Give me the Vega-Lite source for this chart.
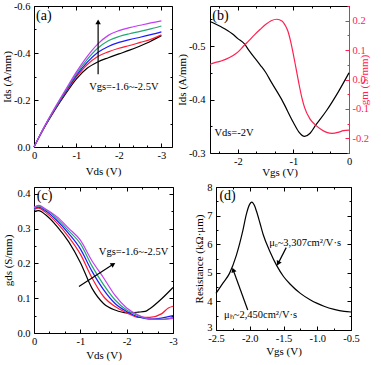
{
  "$schema": "https://vega.github.io/schema/vega-lite/v6.json",
  "padding": {"top": 0, "left": 0, "right": 0, "bottom": 0},
  "config": {
    "font": "Liberation Serif",
    "view": {"stroke": "black", "strokeWidth": 1},
    "locale": {"number": {"decimal": ".", "thousands": ",", "grouping": [3], "currency": ["$", ""], "minus": "-"}},
    "axis": {"grid": false, "domain": false, "tickColor": "black", "tickWidth": 1, "labelFont": "Liberation Serif", "labelFontSize": 10.5, "labelColor": "black", "titleFont": "Liberation Serif", "titleFontSize": 11, "titleFontWeight": "normal", "titleColor": "black", "labelFlush": false, "labelOverlap": false},
    "text": {"font": "Liberation Serif"}
  },
  "datasets": {
    "a": [
      {"s":"1","V":0,"I":0},{"s":"1","V":-0.25,"I":-0.085},{"s":"1","V":-0.5,"I":-0.16},{"s":"1","V":-0.75,"I":-0.228},{"s":"1","V":-1,"I":-0.29},{"s":"1","V":-1.25,"I":-0.335},{"s":"1","V":-1.5,"I":-0.362},{"s":"1","V":-1.75,"I":-0.38},{"s":"1","V":-2,"I":-0.396},{"s":"1","V":-2.25,"I":-0.412},{"s":"1","V":-2.5,"I":-0.43},{"s":"1","V":-2.75,"I":-0.45},{"s":"1","V":-3,"I":-0.474},
      {"s":"2","V":0,"I":0},{"s":"2","V":-0.25,"I":-0.086},{"s":"2","V":-0.5,"I":-0.163},{"s":"2","V":-0.75,"I":-0.233},{"s":"2","V":-1,"I":-0.298},{"s":"2","V":-1.25,"I":-0.35},{"s":"2","V":-1.5,"I":-0.385},{"s":"2","V":-1.75,"I":-0.405},{"s":"2","V":-2,"I":-0.42},{"s":"2","V":-2.25,"I":-0.432},{"s":"2","V":-2.5,"I":-0.445},{"s":"2","V":-2.75,"I":-0.458},{"s":"2","V":-3,"I":-0.477},
      {"s":"3","V":0,"I":0},{"s":"3","V":-0.25,"I":-0.087},{"s":"3","V":-0.5,"I":-0.165},{"s":"3","V":-0.75,"I":-0.237},{"s":"3","V":-1,"I":-0.305},{"s":"3","V":-1.25,"I":-0.36},{"s":"3","V":-1.5,"I":-0.402},{"s":"3","V":-1.75,"I":-0.428},{"s":"3","V":-2,"I":-0.445},{"s":"3","V":-2.25,"I":-0.457},{"s":"3","V":-2.5,"I":-0.467},{"s":"3","V":-2.75,"I":-0.478},{"s":"3","V":-3,"I":-0.49},
      {"s":"4","V":0,"I":0},{"s":"4","V":-0.25,"I":-0.088},{"s":"4","V":-0.5,"I":-0.167},{"s":"4","V":-0.75,"I":-0.241},{"s":"4","V":-1,"I":-0.312},{"s":"4","V":-1.25,"I":-0.372},{"s":"4","V":-1.5,"I":-0.42},{"s":"4","V":-1.75,"I":-0.452},{"s":"4","V":-2,"I":-0.47},{"s":"4","V":-2.25,"I":-0.482},{"s":"4","V":-2.5,"I":-0.492},{"s":"4","V":-2.75,"I":-0.503},{"s":"4","V":-3,"I":-0.515},
      {"s":"5","V":0,"I":0},{"s":"5","V":-0.25,"I":-0.089},{"s":"5","V":-0.5,"I":-0.17},{"s":"5","V":-0.75,"I":-0.246},{"s":"5","V":-1,"I":-0.32},{"s":"5","V":-1.25,"I":-0.385},{"s":"5","V":-1.5,"I":-0.438},{"s":"5","V":-1.75,"I":-0.475},{"s":"5","V":-2,"I":-0.495},{"s":"5","V":-2.25,"I":-0.508},{"s":"5","V":-2.5,"I":-0.518},{"s":"5","V":-2.75,"I":-0.528},{"s":"5","V":-3,"I":-0.537}
    ],
    "b1": [
      {"V":-2.5,"I":-0.546},{"V":-2.3,"I":-0.536},{"V":-2.1,"I":-0.523},{"V":-2.0,"I":-0.514},{"V":-1.88,"I":-0.504},{"V":-1.8,"I":-0.492},{"V":-1.6,"I":-0.465},{"V":-1.5,"I":-0.451},{"V":-1.4,"I":-0.433},{"V":-1.2,"I":-0.398},{"V":-1.0,"I":-0.357},{"V":-0.9,"I":-0.339},{"V":-0.8,"I":-0.331},{"V":-0.7,"I":-0.337},{"V":-0.6,"I":-0.352},{"V":-0.4,"I":-0.38},{"V":-0.2,"I":-0.413},{"V":0,"I":-0.45}
    ],
    "b2": [
      {"V":-2.5,"g":0.052},{"V":-2.4,"g":0.058},{"V":-2.3,"g":0.063},{"V":-2.2,"g":0.07},{"V":-2.1,"g":0.08},{"V":-2.0,"g":0.093},{"V":-1.9,"g":0.113},{"V":-1.8,"g":0.132},{"V":-1.7,"g":0.152},{"V":-1.6,"g":0.17},{"V":-1.5,"g":0.187},{"V":-1.4,"g":0.2},{"V":-1.3,"g":0.205},{"V":-1.2,"g":0.198},{"V":-1.15,"g":0.185},{"V":-1.1,"g":0.165},{"V":-1.05,"g":0.13},{"V":-1.0,"g":0.085},{"V":-0.95,"g":0.035},{"V":-0.9,"g":-0.015},{"V":-0.85,"g":-0.06},{"V":-0.8,"g":-0.095},{"V":-0.7,"g":-0.135},{"V":-0.6,"g":-0.155},{"V":-0.5,"g":-0.17},{"V":-0.4,"g":-0.18},{"V":-0.3,"g":-0.183},{"V":-0.2,"g":-0.18},{"V":-0.1,"g":-0.174},{"V":0,"g":-0.172}
    ],
    "c": [
      {"s":"1","V":0,"g":0.35},{"s":"1","V":-0.1,"g":0.352},{"s":"1","V":-0.25,"g":0.34},{"s":"1","V":-0.5,"g":0.306},{"s":"1","V":-0.75,"g":0.262},{"s":"1","V":-1,"g":0.203},{"s":"1","V":-1.25,"g":0.129},{"s":"1","V":-1.5,"g":0.085},{"s":"1","V":-1.75,"g":0.066},{"s":"1","V":-2,"g":0.058},{"s":"1","V":-2.25,"g":0.06},{"s":"1","V":-2.4,"g":0.062},{"s":"1","V":-2.5,"g":0.07},{"s":"1","V":-2.75,"g":0.098},{"s":"1","V":-3,"g":0.131},
      {"s":"2","V":0,"g":0.355},{"s":"2","V":-0.1,"g":0.359},{"s":"2","V":-0.25,"g":0.347},{"s":"2","V":-0.5,"g":0.316},{"s":"2","V":-0.75,"g":0.276},{"s":"2","V":-1,"g":0.227},{"s":"2","V":-1.25,"g":0.159},{"s":"2","V":-1.5,"g":0.105},{"s":"2","V":-1.75,"g":0.076},{"s":"2","V":-2,"g":0.058},{"s":"2","V":-2.25,"g":0.045},{"s":"2","V":-2.5,"g":0.045},{"s":"2","V":-2.75,"g":0.055},{"s":"2","V":-2.9,"g":0.072},{"s":"2","V":-3,"g":0.077},
      {"s":"3","V":0,"g":0.358},{"s":"3","V":-0.1,"g":0.362},{"s":"3","V":-0.25,"g":0.352},{"s":"3","V":-0.5,"g":0.323},{"s":"3","V":-0.75,"g":0.286},{"s":"3","V":-1,"g":0.242},{"s":"3","V":-1.25,"g":0.178},{"s":"3","V":-1.5,"g":0.125},{"s":"3","V":-1.75,"g":0.085},{"s":"3","V":-2,"g":0.062},{"s":"3","V":-2.25,"g":0.046},{"s":"3","V":-2.5,"g":0.04},{"s":"3","V":-2.75,"g":0.043},{"s":"3","V":-3,"g":0.05},
      {"s":"4","V":0,"g":0.36},{"s":"4","V":-0.1,"g":0.365},{"s":"4","V":-0.25,"g":0.355},{"s":"4","V":-0.5,"g":0.329},{"s":"4","V":-0.75,"g":0.294},{"s":"4","V":-1,"g":0.257},{"s":"4","V":-1.25,"g":0.193},{"s":"4","V":-1.5,"g":0.139},{"s":"4","V":-1.75,"g":0.095},{"s":"4","V":-2,"g":0.066},{"s":"4","V":-2.25,"g":0.05},{"s":"4","V":-2.5,"g":0.04},{"s":"4","V":-2.75,"g":0.039},{"s":"4","V":-3,"g":0.045},
      {"s":"5","V":0,"g":0.362},{"s":"5","V":-0.1,"g":0.367},{"s":"5","V":-0.25,"g":0.357},{"s":"5","V":-0.5,"g":0.334},{"s":"5","V":-0.75,"g":0.301},{"s":"5","V":-1,"g":0.267},{"s":"5","V":-1.25,"g":0.208},{"s":"5","V":-1.5,"g":0.159},{"s":"5","V":-1.75,"g":0.108},{"s":"5","V":-2,"g":0.072},{"s":"5","V":-2.25,"g":0.052},{"s":"5","V":-2.5,"g":0.041},{"s":"5","V":-2.75,"g":0.039},{"s":"5","V":-3,"g":0.042}
    ],
    "d": [
      {"V":-2.5,"R":4.28},{"V":-2.4,"R":4.63},{"V":-2.3,"R":4.98},{"V":-2.2,"R":5.6},{"V":-2.1,"R":6.5},{"V":-2.05,"R":7.05},{"V":-2.0,"R":7.4},{"V":-1.97,"R":7.47},{"V":-1.93,"R":7.35},{"V":-1.9,"R":7.15},{"V":-1.85,"R":6.75},{"V":-1.8,"R":6.33},{"V":-1.7,"R":5.74},{"V":-1.6,"R":5.25},{"V":-1.5,"R":4.87},{"V":-1.4,"R":4.6},{"V":-1.25,"R":4.28},{"V":-1.1,"R":4.05},{"V":-1.0,"R":3.93},{"V":-0.9,"R":3.83},{"V":-0.75,"R":3.72},{"V":-0.6,"R":3.65},{"V":-0.5,"R":3.63}
    ]
  },
  "spacing": 3,
  "vconcat": [
    {
      "bounds": "flush",
      "spacing": 38,
      "hconcat": [
        {
          "width": 138, "height": 141,
          "resolve": {"axis": {"x": "independent", "y": "independent"}},
          "layer": [
            {
              "data": {"name": "a"},
              "mark": {"type": "line", "strokeWidth": 1.2, "interpolate": "monotone"},
              "encoding": {
                "x": {"field": "V", "type": "quantitative", "scale": {"domain": [0, -3.25], "nice": false, "zero": false},
                  "axis": {"orient": "bottom", "title": "Vds (V)", "values": [0,-0.3333,-0.6667,-1,-1.3333,-1.6667,-2,-2.3333,-2.6667,-3], "labelExpr": "abs(datum.value - round(datum.value)) < 0.01 ? format(datum.value, 'd') : ''", "tickSize": {"condition": {"test": "abs(datum.value - round(datum.value)) < 0.01", "value": -4}, "value": -2}, "labelPadding": 7, "titlePadding": 3}},
                "y": {"field": "I", "type": "quantitative", "scale": {"domain": [0, -0.6], "nice": false, "zero": false},
                  "axis": {"orient": "left", "title": "Ids (A/mm)", "values": [0,-0.1,-0.2,-0.3,-0.4,-0.5,-0.6], "labelExpr": "abs(datum.value*5 - round(datum.value*5)) < 0.01 ? format(datum.value, '.1f') : ''", "tickSize": {"condition": {"test": "abs(datum.value*5 - round(datum.value*5)) < 0.01", "value": -4}, "value": -2}, "labelPadding": 8, "titlePadding": 1}},
                "color": {"field": "s", "type": "nominal", "scale": {"domain": ["1","2","3","4","5"], "range": ["#000000","#ff1a33","#1a1aff","#22a870","#c43cf5"]}, "legend": null}
              }
            },
            {
              "data": {"values": [{}]},
              "mark": {"type": "rule", "color": "black", "strokeWidth": 1.2},
              "encoding": {
                "x": {"datum": -1.51, "type": "quantitative", "axis": null},
                "y": {"datum": -0.31, "type": "quantitative", "axis": null},
                "y2": {"datum": -0.528}
              }
            },
            {
              "data": {"values": [{}]},
              "mark": {"type": "point", "shape": "triangle-up", "filled": true, "color": "black", "size": 30, "opacity": 1},
              "encoding": {
                "x": {"datum": -1.51, "type": "quantitative", "axis": null},
                "y": {"datum": -0.532, "type": "quantitative", "axis": null}
              }
            },
            {
              "data": {"values": [{}]},
              "mark": {"type": "text", "align": "left", "baseline": "middle", "fontSize": 10.5, "color": "black"},
              "encoding": {
                "x": {"datum": -1.3, "type": "quantitative", "axis": null},
                "y": {"datum": -0.255, "type": "quantitative", "axis": null},
                "text": {"value": "Vgs=-1.6~-2.5V"}
              }
            },
            {
              "data": {"values": [{}]},
              "mark": {"type": "text", "align": "left", "baseline": "middle", "fontSize": 14, "color": "black"},
              "encoding": {
                "x": {"datum": -0.05, "type": "quantitative",
                  "axis": {"orient": "top", "title": null, "labels": false, "values": [0,-0.3333,-0.6667,-1,-1.3333,-1.6667,-2,-2.3333,-2.6667,-3], "tickSize": {"condition": {"test": "abs(datum.value - round(datum.value)) < 0.01", "value": -4}, "value": -2}}},
                "y": {"datum": -0.557, "type": "quantitative",
                  "axis": {"orient": "right", "title": null, "labels": false, "values": [0,-0.1,-0.2,-0.3,-0.4,-0.5,-0.6], "tickSize": {"condition": {"test": "abs(datum.value*5 - round(datum.value*5)) < 0.01", "value": -4}, "value": -2}}},
                "text": {"value": "(a)"}
              }
            }
          ]
        },
        {
          "width": 139, "height": 147,
          "resolve": {"scale": {"y": "independent"}, "axis": {"x": "independent", "y": "independent"}},
          "layer": [
            {
              "data": {"name": "b1"},
              "mark": {"type": "line", "strokeWidth": 1.2, "interpolate": "monotone", "color": "black"},
              "encoding": {
                "x": {"field": "V", "type": "quantitative", "scale": {"domain": [-2.5, 0], "nice": false, "zero": false},
                  "axis": {"orient": "bottom", "title": "Vgs (V)", "values": [0,-0.3333,-0.6667,-1,-1.3333,-1.6667,-2,-2.3333], "labelExpr": "abs(datum.value - round(datum.value)) < 0.01 ? format(datum.value, 'd') : ''", "tickSize": {"condition": {"test": "abs(datum.value - round(datum.value)) < 0.01", "value": -4}, "value": -2}, "labelPadding": 7, "titlePadding": -2}},
                "y": {"field": "I", "type": "quantitative", "scale": {"domain": [-0.3, -0.575], "nice": false, "zero": false},
                  "axis": {"orient": "left", "title": "Ids (A/mm)", "values": [-0.3,-0.35,-0.4,-0.45,-0.5,-0.55], "labelExpr": "abs(datum.value*10 - round(datum.value*10)) < 0.01 ? format(datum.value, '.1f') : ''", "tickSize": {"condition": {"test": "abs(datum.value*10 - round(datum.value*10)) < 0.01", "value": -4}, "value": -2}, "labelPadding": 9, "titlePadding": 1}}
              }
            },
            {
              "data": {"name": "b2"},
              "mark": {"type": "line", "strokeWidth": 1.2, "interpolate": "monotone", "color": "#ff2050"},
              "encoding": {
                "x": {"field": "V", "type": "quantitative", "axis": null},
                "y": {"field": "g", "type": "quantitative", "scale": {"domain": [-0.25, 0.25], "nice": false, "zero": false},
                  "axis": {"orient": "right", "title": "gm (S/mm)", "titleAngle": 270, "titleColor": "#ff2050", "labelColor": "#ff2050", "tickColor": "#ff2050", "domain": true, "domainColor": "#ff2050", "values": [-0.25,-0.2,-0.15,-0.1,-0.05,0,0.05,0.1,0.15,0.2,0.25], "labelExpr": "abs(datum.value*10 - round(datum.value*10)) < 0.01 ? format(datum.value, '.1f') : ''", "tickSize": {"condition": {"test": "abs(datum.value*10 - round(datum.value*10)) < 0.01", "value": -4}, "value": -2}, "labelPadding": 7, "titlePadding": 1}}
              }
            },
            {
              "data": {"values": [{}]},
              "mark": {"type": "text", "align": "left", "baseline": "middle", "fontSize": 10.5, "color": "black"},
              "encoding": {
                "x": {"datum": -2.42, "type": "quantitative", "axis": null},
                "y": {"datum": -0.337, "type": "quantitative", "scale": {"domain": [-0.3, -0.575], "nice": false, "zero": false}, "axis": null},
                "text": {"value": "Vds=-2V"}
              }
            },
            {
              "data": {"values": [{}]},
              "mark": {"type": "text", "align": "left", "baseline": "middle", "fontSize": 14, "color": "black"},
              "encoding": {
                "x": {"datum": -2.46, "type": "quantitative",
                  "axis": {"orient": "top", "title": null, "labels": false, "values": [0,-0.3333,-0.6667,-1,-1.3333,-1.6667,-2,-2.3333], "tickSize": {"condition": {"test": "abs(datum.value - round(datum.value)) < 0.01", "value": -4}, "value": -2}}},
                "y": {"datum": -0.557, "type": "quantitative", "scale": {"domain": [-0.3, -0.575], "nice": false, "zero": false}, "axis": null},
                "text": {"value": "(b)"}
              }
            }
          ]
        }
      ]
    },
    {
      "bounds": "flush",
      "spacing": 43,
      "hconcat": [
        {
          "width": 139, "height": 146,
          "resolve": {"axis": {"x": "independent", "y": "independent"}},
          "layer": [
            {
              "data": {"name": "c"},
              "mark": {"type": "line", "strokeWidth": 1.2, "interpolate": "monotone"},
              "encoding": {
                "x": {"field": "V", "type": "quantitative", "scale": {"domain": [0, -3], "nice": false, "zero": false},
                  "axis": {"orient": "bottom", "title": "Vds (V)", "values": [0,-0.3333,-0.6667,-1,-1.3333,-1.6667,-2,-2.3333,-2.6667,-3], "labelExpr": "abs(datum.value - round(datum.value)) < 0.01 ? format(datum.value, 'd') : ''", "tickSize": {"condition": {"test": "abs(datum.value - round(datum.value)) < 0.01", "value": -4}, "value": -2}, "labelPadding": 7, "titlePadding": 1}},
                "y": {"field": "g", "type": "quantitative", "scale": {"domain": [0, 0.42], "nice": false, "zero": false},
                  "axis": {"orient": "left", "title": "gds (S/mm)", "values": [0,0.05,0.1,0.15,0.2,0.25,0.3,0.35,0.4], "labelExpr": "abs(datum.value*10 - round(datum.value*10)) < 0.01 ? format(datum.value, '.1f') : ''", "tickSize": {"condition": {"test": "abs(datum.value*10 - round(datum.value*10)) < 0.01", "value": -4}, "value": -2}, "labelPadding": 8, "titlePadding": 3}},
                "color": {"field": "s", "type": "nominal", "scale": {"domain": ["1","2","3","4","5"], "range": ["#000000","#ff1a33","#1a1aff","#22a870","#c43cf5"]}, "legend": null}
              }
            },
            {
              "data": {"values": [{}]},
              "mark": {"type": "rule", "color": "black", "strokeWidth": 1.2},
              "encoding": {
                "x": {"datum": -0.97, "type": "quantitative", "axis": null},
                "y": {"datum": 0.134, "type": "quantitative", "axis": null},
                "x2": {"datum": -1.70},
                "y2": {"datum": 0.197}
              }
            },
            {
              "data": {"values": [{}]},
              "mark": {"type": "point", "shape": "triangle-up", "filled": true, "color": "black", "size": 30, "opacity": 1, "angle": 57.6},
              "encoding": {
                "x": {"datum": -1.71, "type": "quantitative", "axis": null},
                "y": {"datum": 0.198, "type": "quantitative", "axis": null}
              }
            },
            {
              "data": {"values": [{}]},
              "mark": {"type": "text", "align": "left", "baseline": "middle", "fontSize": 10.5, "color": "black"},
              "encoding": {
                "x": {"datum": -1.4, "type": "quantitative", "axis": null},
                "y": {"datum": 0.232, "type": "quantitative", "axis": null},
                "text": {"value": "Vgs=-1.6~-2.5V"}
              }
            },
            {
              "data": {"values": [{}]},
              "mark": {"type": "text", "align": "left", "baseline": "middle", "fontSize": 14, "color": "black"},
              "encoding": {
                "x": {"datum": -0.06, "type": "quantitative",
                  "axis": {"orient": "top", "title": null, "labels": false, "values": [0,-0.3333,-0.6667,-1,-1.3333,-1.6667,-2,-2.3333,-2.6667,-3], "tickSize": {"condition": {"test": "abs(datum.value - round(datum.value)) < 0.01", "value": -4}, "value": -2}}},
                "y": {"datum": 0.394, "type": "quantitative",
                  "axis": {"orient": "right", "title": null, "labels": false, "values": [0,0.05,0.1,0.15,0.2,0.25,0.3,0.35,0.4], "tickSize": {"condition": {"test": "abs(datum.value*10 - round(datum.value*10)) < 0.01", "value": -4}, "value": -2}}},
                "text": {"value": "(c)"}
              }
            }
          ]
        },
        {
          "width": 135, "height": 143,
          "resolve": {"axis": {"x": "independent", "y": "independent"}},
          "layer": [
            {
              "data": {"name": "d"},
              "mark": {"type": "line", "strokeWidth": 1.2, "interpolate": "monotone", "color": "black"},
              "encoding": {
                "x": {"field": "V", "type": "quantitative", "scale": {"domain": [-2.5, -0.5], "nice": false, "zero": false},
                  "axis": {"orient": "bottom", "title": "Vgs (V)", "values": [-2.5,-2.25,-2,-1.75,-1.5,-1.25,-1,-0.75,-0.5], "labelExpr": "abs(datum.value*2 - round(datum.value*2)) < 0.01 ? format(datum.value, '.1f') : ''", "tickSize": {"condition": {"test": "abs(datum.value*2 - round(datum.value*2)) < 0.01", "value": -4}, "value": -2}, "labelPadding": 7, "titlePadding": 0}},
                "y": {"field": "R", "type": "quantitative", "scale": {"domain": [3, 8], "nice": false, "zero": false},
                  "axis": {"orient": "left", "title": "Resistance (kΩ·μm)", "values": [3,3.5,4,4.5,5,5.5,6,6.5,7,7.5,8], "labelExpr": "abs(datum.value - round(datum.value)) < 0.01 ? format(datum.value, 'd') : ''", "labelOffset": {"condition": {"test": "datum.value == 3", "value": -3}, "value": 0}, "tickSize": {"condition": {"test": "abs(datum.value - round(datum.value)) < 0.01", "value": -4}, "value": -2}, "labelPadding": 8, "titlePadding": 2}}
              }
            },
            {
              "data": {"values": [{}]},
              "mark": {"type": "rule", "color": "black", "strokeWidth": 1.2},
              "encoding": {
                "x": {"datum": -1.46, "type": "quantitative", "axis": null},
                "y": {"datum": 5.88, "type": "quantitative", "axis": null},
                "x2": {"datum": -1.579},
                "y2": {"datum": 5.33}
              }
            },
            {
              "data": {"values": [{}]},
              "mark": {"type": "point", "shape": "triangle-up", "filled": true, "color": "black", "size": 30, "opacity": 1, "angle": 206.3},
              "encoding": {
                "x": {"datum": -1.579, "type": "quantitative", "axis": null},
                "y": {"datum": 5.33, "type": "quantitative", "axis": null}
              }
            },
            {
              "data": {"values": [{}]},
              "mark": {"type": "rule", "color": "black", "strokeWidth": 1.2},
              "encoding": {
                "x": {"datum": -2.03, "type": "quantitative", "axis": null},
                "y": {"datum": 3.7, "type": "quantitative", "axis": null},
                "x2": {"datum": -2.245},
                "y2": {"datum": 5.10}
              }
            },
            {
              "data": {"values": [{}]},
              "mark": {"type": "point", "shape": "triangle-up", "filled": true, "color": "black", "size": 30, "opacity": 1, "angle": 340.2},
              "encoding": {
                "x": {"datum": -2.245, "type": "quantitative", "axis": null},
                "y": {"datum": 5.10, "type": "quantitative", "axis": null}
              }
            },
            {
              "data": {"values": [{}]},
              "mark": {"type": "text", "align": "left", "baseline": "middle", "fontSize": 10.5, "color": "black"},
              "encoding": {
                "x": {"datum": -1.71, "type": "quantitative", "axis": null},
                "y": {"datum": 6.04, "type": "quantitative", "axis": null},
                "text": {"value": "μₑ~3,307cm²/V·s"}
              }
            },
            {
              "data": {"values": [{}]},
              "mark": {"type": "text", "align": "left", "baseline": "middle", "fontSize": 10.5, "color": "black"},
              "encoding": {
                "x": {"datum": -2.38, "type": "quantitative", "axis": null},
                "y": {"datum": 3.52, "type": "quantitative", "axis": null},
                "text": {"value": "μₕ~2,450cm²/V·s"}
              }
            },
            {
              "data": {"values": [{}]},
              "mark": {"type": "text", "align": "left", "baseline": "middle", "fontSize": 14, "color": "black"},
              "encoding": {
                "x": {"datum": -2.45, "type": "quantitative",
                  "axis": {"orient": "top", "title": null, "labels": false, "values": [-2.5,-2.25,-2,-1.75,-1.5,-1.25,-1,-0.75,-0.5], "tickSize": {"condition": {"test": "abs(datum.value*2 - round(datum.value*2)) < 0.01", "value": -4}, "value": -2}}},
                "y": {"datum": 7.68, "type": "quantitative",
                  "axis": {"orient": "right", "title": null, "labels": false, "values": [3,3.5,4,4.5,5,5.5,6,6.5,7,7.5,8], "tickSize": {"condition": {"test": "abs(datum.value - round(datum.value)) < 0.01", "value": -4}, "value": -2}}},
                "text": {"value": "(d)"}
              }
            }
          ]
        }
      ]
    }
  ]
}
